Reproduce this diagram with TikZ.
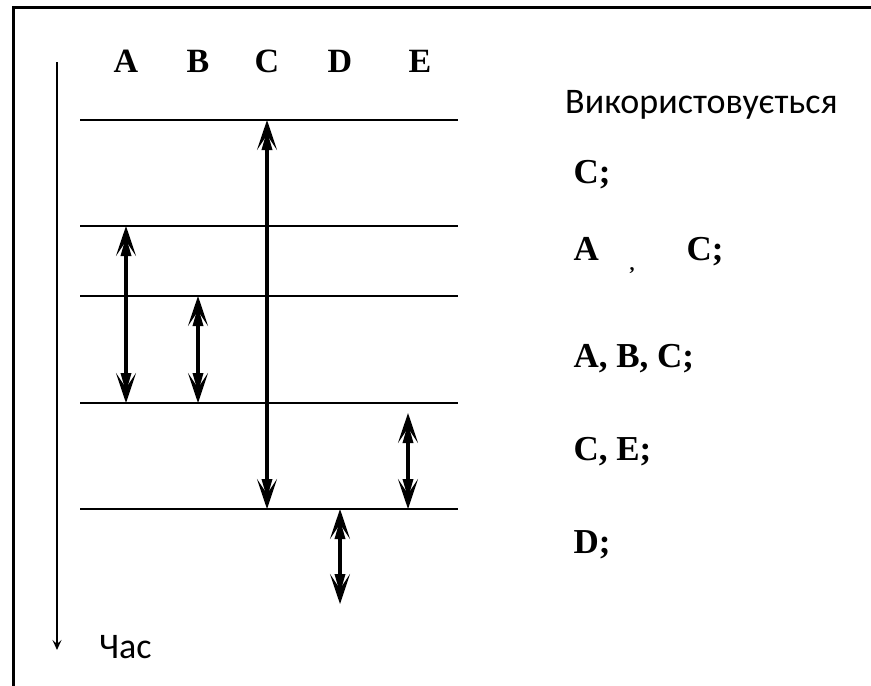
\documentclass[tikz,border=0pt]{standalone}
\usepackage{fontspec}
\setmainfont{Liberation Serif}
\newfontfamily\labelsans{Carlito}
\usetikzlibrary{arrows.meta}
\tikzset{
  bighead/.tip={Triangle[length=20pt,width=10pt,sep=-20pt]Stealth[length=30pt,width=20pt,inset=15pt]}
}
\begin{document}
\begin{tikzpicture}[x=1pt,y=-1pt,
  level/.style={line width=1.4pt},
  span/.style={line width=3.2pt,bighead-bighead},
  colhead/.style={font=\bfseries\fontsize{34}{40}\selectfont,anchor=base},
  rowtext/.style={font=\bfseries\fontsize{35}{40}\selectfont,anchor=base west},
  sanstext/.style={font=\labelsans\fontsize{36}{42}\selectfont,anchor=base west,inner sep=0pt}]
\useasboundingbox (0,0) rectangle (871,686);
% frame (right and bottom edges lie outside the picture)
\draw[line width=3pt] (13,686) -- (13,7) -- (871,7);
% time axis
\coordinate (t0) at (57,62);
\coordinate (t1) at (57,650);
\draw[line width=1.5pt,-{Stealth[length=10pt,width=9pt,inset=4pt]}] (t0) -- (t1);
\node[sanstext] (time) at (99,658) {Час};
% column heads
\node[colhead] (hA) at (126,72) {A};
\node[colhead] (hB) at (198,72) {B};
\node[colhead] (hC) at (267,72) {C};
\node[colhead] (hD) at (340,72) {D};
\node[colhead] (hE) at (420,72) {E};
% levels
\foreach \n/\y in {1/120,2/226,3/296,4/403,5/509}{
  \coordinate (l\n w) at (80,\y);
  \coordinate (l\n e) at (458,\y);
  \draw[level] (l\n w) -- (l\n e);
}
% spans
\coordinate (cT) at (267,120); \coordinate (cB) at (267,509);
\coordinate (aT) at (126,226); \coordinate (aB) at (126,403);
\coordinate (bT) at (198,296); \coordinate (bB) at (198,403);
\coordinate (eT) at (408,413); \coordinate (eB) at (408,509);
\coordinate (dT) at (340,509); \coordinate (dB) at (340,604);
\draw[span] (cT) -- (cB);
\draw[span] (aT) -- (aB);
\draw[span] (bT) -- (bB);
\draw[span] (eT) -- (eB);
\draw[span] (dT) -- (dB);
% right column
\node[sanstext] (title) at (565,113) {Використовується};
\node[rowtext] (r1) at (570,183) {C;};
\node[rowtext] (r2a) at (570,260) {A};
\node[rowtext] (r2b) at (626,270) {\fontsize{20}{24}\selectfont,};
\node[rowtext] (r2c) at (683,260) {C;};
\node[rowtext] (r3) at (570,367) {A, B, C;};
\node[rowtext] (r4) at (570,460) {C, E;};
\node[rowtext] (r5) at (570,553) {D;};
\end{tikzpicture}
\end{document}
